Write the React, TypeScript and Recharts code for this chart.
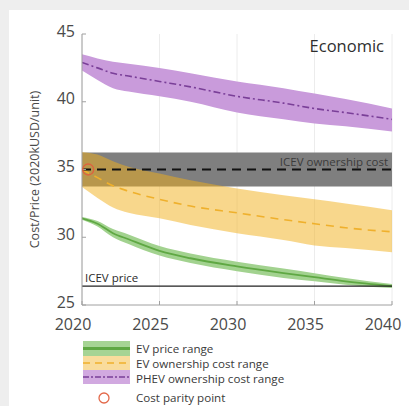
import React from "react";
import {
  ComposedChart,
  Area,
  Line,
  XAxis,
  YAxis,
  CartesianGrid,
  ReferenceDot,
  ReferenceArea,
} from "recharts";

// Years sampled along each projection
const years = [2020, 2021, 2022, 2023, 2025, 2027, 2030, 2033, 2035, 2037, 2040];

// EV purchase price range and median (kUSD)
const evPriceLow = [31.3, 30.8, 30.0, 29.5, 28.65, 28.1, 27.5, 27.0, 26.75, 26.5, 26.25];
const evPriceMid = [31.4, 31.0, 30.3, 29.85, 29.0, 28.45, 27.85, 27.35, 27.05, 26.75, 26.4];
const evPriceHigh = [31.5, 31.2, 30.6, 30.2, 29.35, 28.8, 28.2, 27.7, 27.35, 27.0, 26.55];

// EV ownership cost range and median
const evOwnLow = [33.7, 32.9, 32.2, 31.8, 31.4, 30.9, 30.3, 29.8, 29.4, 29.2, 28.9];
const evOwnMid = [35.0, 34.4, 33.8, 33.4, 32.8, 32.3, 31.8, 31.3, 31.0, 30.7, 30.4];
const evOwnHigh = [36.3, 36.1, 35.6, 35.2, 34.7, 34.2, 33.6, 33.1, 32.8, 32.5, 32.0];

// PHEV ownership cost range and median
const phevLow = [42.3, 41.6, 41.0, 40.75, 40.4, 40.0, 39.2, 38.7, 38.4, 38.2, 37.8];
const phevMid = [42.9, 42.5, 42.1, 41.9, 41.5, 41.1, 40.4, 39.9, 39.5, 39.2, 38.7];
const phevHigh = [43.5, 43.2, 42.95, 42.8, 42.5, 42.1, 41.5, 41.0, 40.6, 40.2, 39.5];

// ICEV reference levels
const icevOwnCost = 35;
const icevOwnLow = 33.75;
const icevOwnHigh = 36.25;
const icevPrice = 26.4;

// Cost parity point
const parityYear = 2020.4;
const parityCost = 35;

const xTicks = [2020, 2025, 2030, 2035, 2040];
const yTicks = [25, 30, 35, 40, 45];

const data = years.map((year, i) => ({
  year,
  evPrice: [evPriceLow[i], evPriceHigh[i]],
  evPriceMid: evPriceMid[i],
  evOwn: [evOwnLow[i], evOwnHigh[i]],
  evOwnMid: evOwnMid[i],
  phev: [phevLow[i], phevHigh[i]],
  phevMid: phevMid[i],
  icevBand: [icevOwnLow, icevOwnHigh],
  icevCost: icevOwnCost,
  icevPrice: icevPrice,
}));

const FONT = "'Open Sans', 'Noto Sans', sans-serif";
const AXIS = "#a0a0a0";
const TEXT = "#4a4a4a";

const legendItems = [
  { label: "EV price range", y: 12.5 },
  { label: "EV ownership cost range", y: 27.5 },
  { label: "PHEV ownership cost range", y: 42.5 },
  { label: "Cost parity point", y: 62 },
];

function LegendBox() {
  return (
    <svg width={280} height={70} style={{ position: "absolute", left: 75, top: 336 }}>
      <rect x={8} y={5} width={47} height={15} fill="#a6d494" />
      <line x1={8} x2={55} y1={12.5} y2={12.5} stroke="#5fa843" strokeWidth={3} />
      <rect x={8} y={20} width={47} height={14} fill="#f9dc9c" />
      <line x1={8} x2={55} y1={27} y2={27} stroke="#efb02c" strokeWidth={1.6} strokeDasharray="7 5" />
      <rect x={8} y={34} width={47} height={14} fill="#d1a9e0" />
      <line x1={8} x2={55} y1={41} y2={41} stroke="#7a3f98" strokeWidth={1.6} strokeDasharray="6 2 2 2" />
      <circle cx={29} cy={62} r={5} fill="none" stroke="#e3694a" strokeWidth={1.3} />
      {legendItems.map((it) => (
        <text
          key={it.label}
          x={61}
          y={it.y}
          dy="0.35em"
          fontFamily={FONT}
          fontSize={11.6}
          fill="#3a3a3a"
        >
          {it.label}
        </text>
      ))}
    </svg>
  );
}

export default function App() {
  return (
    <div
      style={{
        position: "fixed",
        left: 0,
        top: 0,
        width: 409,
        height: 406,
        background: "#eeeeee",
        overflow: "hidden",
      }}
    >
      <div
        style={{
          position: "absolute",
          left: 9,
          top: 10,
          width: 400,
          height: 396,
          background: "#ffffff",
        }}
      />
      <div style={{ position: "absolute", left: 0, top: 0 }}>
        <ComposedChart
          width={409}
          height={406}
          data={data}
          margin={{ top: 34, right: 17, bottom: 71, left: 22 }}
        >
          <CartesianGrid vertical horizontal={false} stroke="#ececec" />
          <XAxis
            dataKey="year"
            type="number"
            domain={[2020, 2040]}
            ticks={xTicks}
            height={30}
            axisLine={{ stroke: AXIS }}
            tickLine={{ stroke: AXIS }}
            tickSize={-4}
            tickMargin={18}
            tick={{ fill: TEXT, fontSize: 16, fontFamily: FONT, dx: -9 }}
            allowDataOverflow
          />
          <XAxis
            xAxisId="top"
            orientation="top"
            dataKey="year"
            type="number"
            domain={[2020, 2040]}
            ticks={xTicks}
            height={0}
            axisLine={{ stroke: AXIS }}
            tickLine={{ stroke: AXIS }}
            tickSize={-4}
            tick={false}
          />
          <YAxis
            type="number"
            domain={[25, 45]}
            ticks={yTicks}
            width={60}
            axisLine={{ stroke: AXIS }}
            tickLine={{ stroke: AXIS }}
            tickSize={-4}
            tickMargin={11}
            tick={{ fill: TEXT, fontSize: 16, fontFamily: FONT, dy: -3 }}
            label={{
              value: "Cost/Price (2020kUSD/unit)",
              angle: -90,
              position: "insideLeft",
              offset: 13,
              style: { textAnchor: "middle", fill: TEXT, fontSize: 12.5, fontFamily: FONT },
            }}
            allowDataOverflow
          />
          <YAxis
            yAxisId="right"
            orientation="right"
            type="number"
            domain={[25, 45]}
            ticks={yTicks}
            width={0}
            axisLine={{ stroke: AXIS }}
            tickLine={{ stroke: AXIS }}
            tickSize={-4}
            tick={false}
          />

          {/* PHEV ownership cost */}
          <Area
            dataKey="phev"
            type="monotone"
            stroke="none"
            fill="#c99bdb"
            fillOpacity={1}
            isAnimationActive={false}
          />
          <Line
            dataKey="phevMid"
            type="monotone"
            stroke="#7a3f98"
            strokeWidth={1.6}
            strokeDasharray="7 3 2 3"
            dot={false}
            isAnimationActive={false}
          />

          {/* ICEV ownership cost band */}
          <Area
            dataKey="icevBand"
            type="linear"
            stroke="none"
            fill="#7f7f7f"
            fillOpacity={1}
            isAnimationActive={false}
          />

          {/* EV ownership cost */}
          <Area
            dataKey="evOwn"
            type="monotone"
            stroke="none"
            fill="#f1af19"
            fillOpacity={0.5}
            isAnimationActive={false}
          />

          {/* EV price */}
          <Area
            dataKey="evPrice"
            type="monotone"
            stroke="none"
            fill="#a2d28f"
            fillOpacity={1}
            isAnimationActive={false}
          />
          <Line
            dataKey="evPriceMid"
            type="monotone"
            stroke="#5fa843"
            strokeWidth={1.8}
            dot={false}
            isAnimationActive={false}
          />

          <Line
            dataKey="evOwnMid"
            type="monotone"
            stroke="#efb02c"
            strokeWidth={1.6}
            strokeDasharray="8 6"
            dot={false}
            isAnimationActive={false}
          />
          <Line
            dataKey="icevCost"
            type="linear"
            stroke="#111111"
            strokeWidth={2}
            strokeDasharray="9 6"
            dot={false}
            isAnimationActive={false}
          />
          <Line
            dataKey="icevPrice"
            type="linear"
            stroke="#222222"
            strokeWidth={1.2}
            dot={false}
            isAnimationActive={false}
          />

          <ReferenceDot
            x={parityYear}
            y={parityCost}
            r={5.5}
            fill="none"
            stroke="#e0603e"
            strokeWidth={1.3}
          />

          <ReferenceArea
            x1={2020}
            x2={2040}
            y1={icevOwnLow}
            y2={icevOwnHigh}
            fill="none"
            stroke="none"
            label={{
              value: "ICEV ownership cost",
              position: "insideTopRight",
              offset: 5,
              dx: 1,
              style: { fill: "#3c3c3c", fontSize: 11.5, fontFamily: FONT },
            }}
          />
          <ReferenceArea
            x1={2020}
            x2={2040}
            y1={icevPrice}
            y2={icevPrice}
            fill="none"
            stroke="none"
            label={{
              value: "ICEV price",
              position: "insideBottomLeft",
              offset: 0,
              dy: -4,
              dx: 3,
              style: { fill: "#2a2a2a", fontSize: 11.5, fontFamily: FONT },
            }}
          />
          <ReferenceArea
            x1={2020}
            x2={2040}
            y1={45}
            y2={45}
            fill="none"
            stroke="none"
            label={{
              value: "Economic",
              position: "insideTopRight",
              offset: 0,
              dy: 6,
              dx: -8,
              style: { fill: "#2e2e2e", fontSize: 16.5, fontFamily: FONT },
            }}
          />
        </ComposedChart>
      </div>
      <LegendBox />
    </div>
  );
}
